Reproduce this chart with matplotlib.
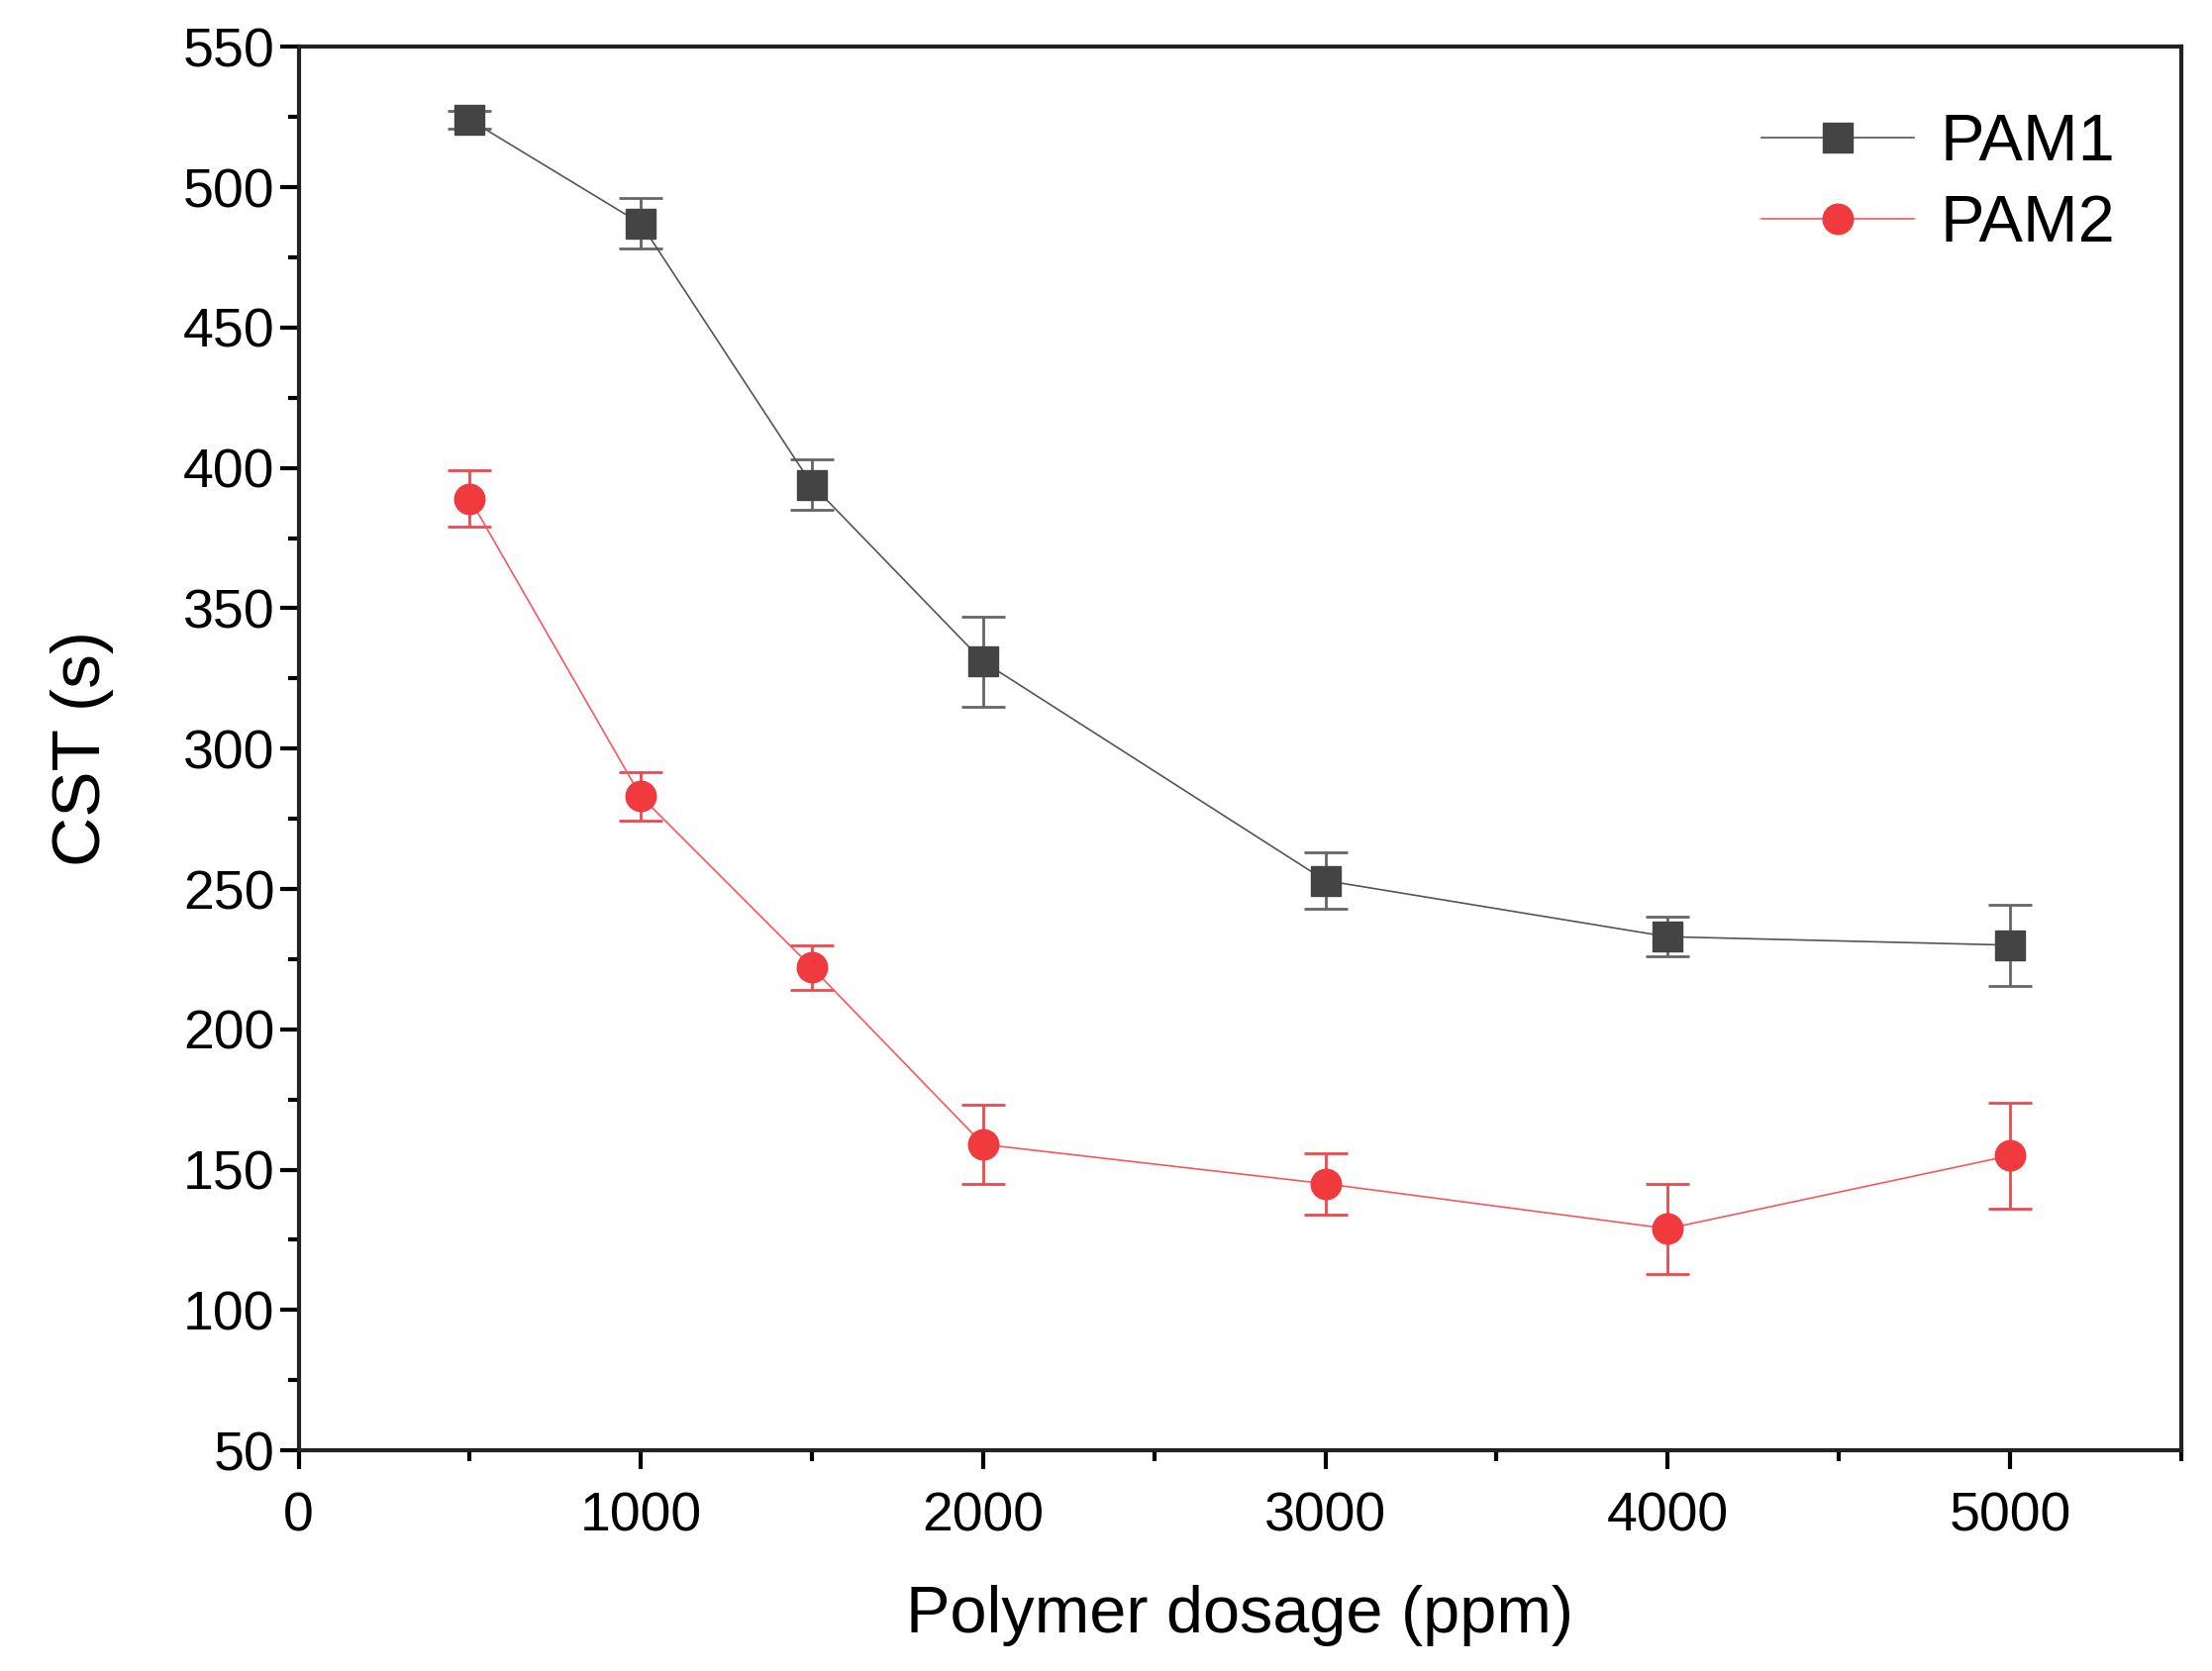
import matplotlib.pyplot as plt
from matplotlib.lines import Line2D
from matplotlib.ticker import MultipleLocator

plt.rcParams['font.family'] = ['Liberation Sans', 'DejaVu Sans']

dosage = [500, 1000, 1500, 2000, 3000, 4000, 5000]
pam1 = [524, 487, 394, 331, 253, 233, 230]
pam1_err = [3, 9, 9, 16, 10, 7, 14.5]
pam2 = [389, 283, 222, 159, 145, 129, 155]
pam2_err = [10, 8.5, 8, 14, 11, 16, 19]

fig = plt.figure(figsize=(22.34, 16.88), dpi=100)
ax = fig.add_axes([0.135, 0.132, 0.851, 0.840])

ax.errorbar(dosage, pam1, yerr=pam1_err, color='#555555', lw=1.2,
            marker='s', ms=21, mfc='#444444', mec='#444444',
            ecolor='#666666', elinewidth=2, capsize=16, capthick=2)
ax.errorbar(dosage, pam2, yerr=pam2_err, color='#f5595c', lw=1.2,
            marker='o', ms=22, mfc='#f03a3e', mec='#f03a3e',
            ecolor='#f0484c', elinewidth=2, capsize=16, capthick=2)

ax.set_xlim(0, 5500)
ax.set_ylim(50, 550)
ax.xaxis.set_major_locator(MultipleLocator(1000))
ax.xaxis.set_minor_locator(MultipleLocator(500))
ax.yaxis.set_major_locator(MultipleLocator(50))
ax.yaxis.set_minor_locator(MultipleLocator(25))
ax.tick_params(which='major', direction='out', length=14, width=3, labelsize=40,
               top=False, right=False)
ax.tick_params(axis='x', which='major', pad=16)
ax.tick_params(which='minor', direction='out', length=8, width=3,
               top=False, right=False)
for s in ax.spines.values():
    s.set_linewidth(3)
    s.set_color('#222222')

ax.set_xlabel('Polymer dosage (ppm)', fontsize=48, labelpad=30)
ax.set_ylabel('CST (s)', fontsize=50, labelpad=50)

handles = [
    Line2D([], [], color='#555555', lw=1.2, marker='s', ms=21,
           mfc='#444444', mec='#444444', label='PAM1'),
    Line2D([], [], color='#f5595c', lw=1.2, marker='o', ms=22,
           mfc='#f03a3e', mec='#f03a3e', label='PAM2'),
]
ax.legend(handles=handles, loc='upper right', frameon=False, fontsize=48,
          handlelength=2.3, handletextpad=0.4, borderaxespad=0.6,
          labelspacing=0.3)

fig.savefig('out.png', dpi=100)
